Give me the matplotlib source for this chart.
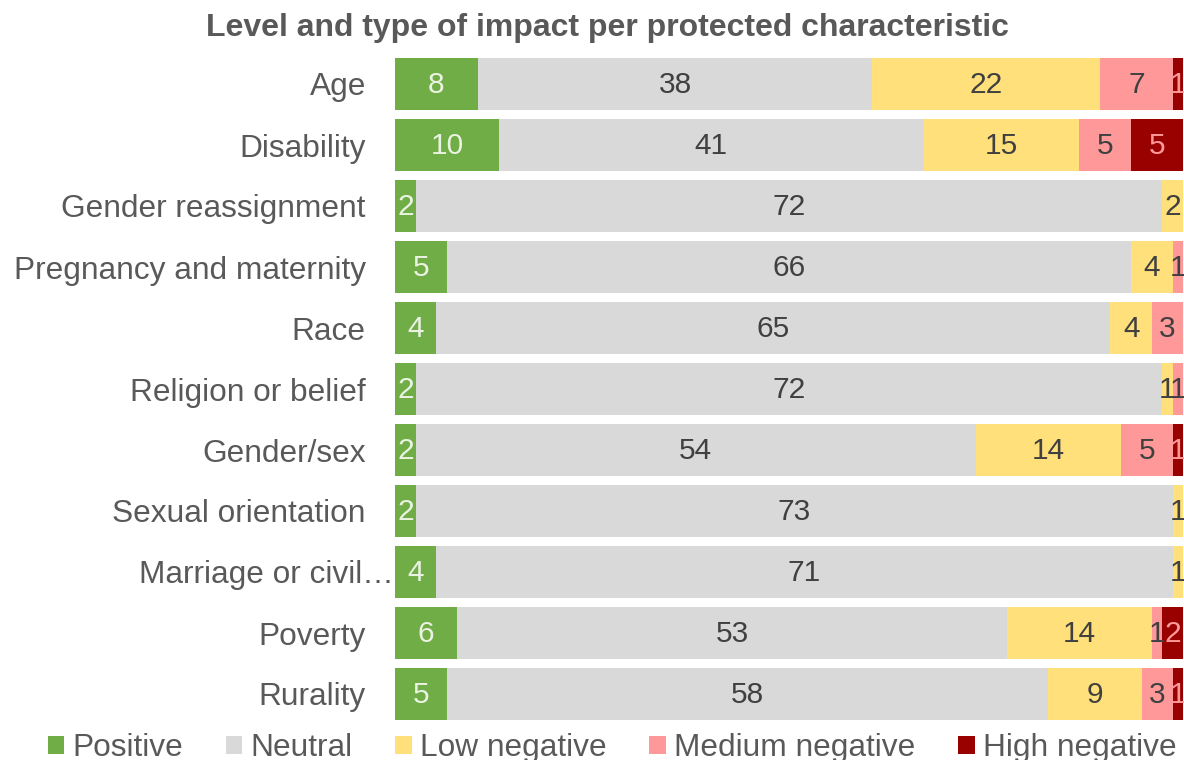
import matplotlib
matplotlib.use("Agg")
import matplotlib.pyplot as plt
import matplotlib.transforms as mtransforms
import numpy as np

plt.rcParams['font.family'] = ['Liberation Sans', 'DejaVu Sans']

categories = ["Age", "Disability", "Gender reassignment", "Pregnancy and maternity",
              "Race", "Religion or belief", "Gender/sex", "Sexual orientation",
              "Marriage or civil…", "Poverty", "Rurality"]
series_names = ["Positive", "Neutral", "Low negative", "Medium negative", "High negative"]
positive = [8, 10, 2, 5, 4, 2, 2, 2, 4, 6, 5]
neutral = [38, 41, 72, 66, 65, 72, 54, 73, 71, 53, 58]
low_negative = [22, 15, 2, 4, 4, 1, 14, 1, 1, 14, 9]
medium_negative = [7, 5, 0, 1, 3, 1, 5, 0, 0, 1, 3]
high_negative = [1, 5, 0, 0, 0, 0, 1, 0, 0, 2, 1]

colors = ["#70AD47", "#D9D9D9", "#FFE07B", "#FF9999", "#990000"]
label_colors = ["#EAF3E2", "#404040", "#404040", "#404040", "#FF9999"]
text_color = "#595959"

fig = plt.figure(figsize=(11.84, 7.6), dpi=100)
ax = fig.add_axes([395/1184, 35.5/760, 788/1184, 671/760])

data = [positive, neutral, low_negative, medium_negative, high_negative]
y = np.arange(len(categories))
left = np.zeros(len(categories))
for vals, name, c, lc in zip(data, series_names, colors, label_colors):
    vals = np.array(vals, dtype=float)
    bars = ax.barh(y, vals, left=left, height=0.85, color=c, label=name, edgecolor='none')
    for b, v in zip(bars, vals):
        if v > 0:
            ax.text(b.get_x() + b.get_width()/2, b.get_y() + b.get_height()/2 + 0.02, f"{int(v)}",
                    ha='center', va='center', fontsize=21.5, color=lc)
    left += vals

ax.set_xlim(0, 76)
ax.set_ylim(len(categories) - 0.5, -0.5)
ax.set_yticks(y)
ax.set_yticklabels(categories, fontsize=22.8, color=text_color)
ax.tick_params(axis='y', length=0, pad=21)
ax.set_xticks([])
for s in ax.spines.values():
    s.set_visible(False)

# the truncated label sits closer to the bars in the reference
for lbl in ax.get_yticklabels():
    if lbl.get_text().endswith("…"):
        lbl.set_transform(lbl.get_transform() +
                          mtransforms.ScaledTranslation(28/100, 0, fig.dpi_scale_trans))

fig.text(607/1184, 1 - 28/760, "Level and type of impact per protected characteristic",
         ha='center', va='center', fontsize=23, fontweight='bold', color=text_color)

leg = fig.legend(loc='center', bbox_to_anchor=(612/1184, 12/760), ncol=5, frameon=False,
                 fontsize=22.8, handlelength=0.52, handleheight=0.52, handletextpad=0.26,
                 columnspacing=1.35, labelcolor=text_color, borderpad=0, borderaxespad=0)

fig.savefig("out.png", dpi=100)
